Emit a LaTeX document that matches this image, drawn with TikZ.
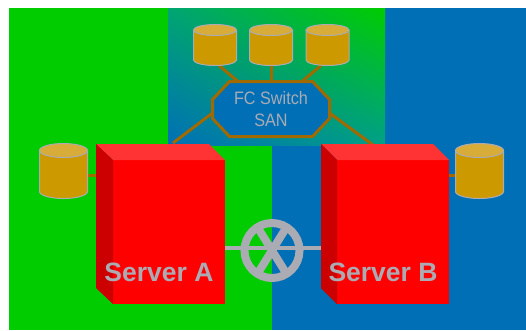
\documentclass[tikz,border=0pt]{standalone}
\usepackage{fontspec}
\setmainfont{Liberation Sans}
\newfontfamily\narrowfont[FakeStretch=0.9]{Liberation Sans}
\usetikzlibrary{calc,backgrounds,positioning,shadings}

\definecolor{sitegreen}{HTML}{00CC00}
\definecolor{siteblue}{HTML}{006FB6}
\definecolor{linkbrown}{HTML}{A06A00}
\definecolor{labelgray}{HTML}{ABABB3}
\definecolor{diskbody}{HTML}{CC9900}
\definecolor{disktop}{HTML}{D8AC38}
\definecolor{mixupper}{HTML}{00A573}
\definecolor{mixlower}{HTML}{00A087}

\tikzset{
  diskedge/.style={draw=labelgray,line width=1pt},
  link/.style={linkbrown,line width=3pt},
  wire/.style={labelgray,line width=4pt},
  spoke/.style={labelgray,line width=8pt},
  srvfront/.style={fill=red,minimum width=112pt,minimum height=144pt,inner sep=0pt,outer sep=0pt},
  srvlabel/.style={labelgray,font=\fontsize{26.5}{27}\selectfont\bfseries,inner sep=0pt}
}

\begin{document}
\begin{tikzpicture}[x=1pt,y=-1pt]
  \useasboundingbox (0,0) rectangle (526,330);

  \begin{scope}[on background layer]
    \fill[sitegreen] (9,8) rectangle (272,330);
    \fill[siteblue] (272,145) rectangle (526,330);
    \fill[siteblue] (385,8) rectangle (526,145);
    \shade[lower left=siteblue,upper right=sitegreen,upper left=mixupper,lower right=mixlower] (168,8) rectangle (385,145);
  \end{scope}

  % servers
  \foreach \srv/\x/\dx/\txt in {srva/169/17/A,srvb/393/16/B} {
    \node[srvfront] (\srv) at (\x,232) {};
    \fill[red!80!white] (\srv.north west) -- ++(-\dx,-16) -- ($(\srv.north east)+(-16,-16)$) -- (\srv.north east) -- cycle;
    \fill[red!80!black] (\srv.north west) -- ++(-\dx,-16) -- ++(0,144) -- (\srv.south west) -- cycle;
    \node[srvlabel] (lbl\srv) at (\x-10,272) {Server \txt};
  }

  % disks
  \foreach \dsk/\x/\y/\dw/\dh/\ry in {dska/215/45/43/41/5.5,dskb/271/45/43/41/5.5,dskc/327.5/45/43/41/5.5,
      dskl/63.5/171/48/55/7,dskr/479.5/171/48/55/7} {
    \node[minimum width=\dw pt,minimum height=\dh pt,inner sep=0pt,outer sep=0pt] (\dsk) at (\x,\y) {};
    \draw[diskedge,fill=diskbody] ([yshift=-\ry pt]\dsk.north west) -- ([yshift=\ry pt]\dsk.south west)
      arc[start angle=180,end angle=360,x radius=\dw/2 pt,y radius=\ry pt]
      -- ([yshift=-\ry pt]\dsk.north east);
    \draw[diskedge,fill=disktop] ([yshift=-\ry pt]\dsk.north) ellipse[x radius=\dw/2 pt,y radius=\ry pt];
  }

  \node[minimum width=117pt,minimum height=55pt,inner sep=0pt,outer sep=0pt,align=center,text=labelgray,
    font=\narrowfont\fontsize{18}{22}\selectfont] (san) at (271,109) {FC Switch\\SAN};

  % router
  \node[circle,draw=labelgray,line width=8pt,minimum size=55pt,inner sep=0pt,outer sep=0pt] (rtr) at (272,250.5) {};
  \draw[spoke] (rtr.58) -- (rtr.238);
  \draw[spoke] (rtr.122) -- (rtr.302);

  \begin{scope}[on background layer]
    \draw[link] ([xshift=4pt]dska.south) -- ([xshift=-33pt]san.north);
    \draw[link] (dskb.south) -- (san.north);
    \draw[link] ([xshift=-6.5pt]dskc.south) -- ([xshift=31pt]san.north);
    \draw[link] ([yshift=-4pt]san.west) -- (173,143);
    \draw[link] ([yshift=-4pt]san.east) -- (373,145);
    \draw[link] ([yshift=-4pt]dskl.center) -- ([yshift=-4pt]dskl.center -| srva.center);
    \draw[link] ([yshift=-4pt]dskr.center) -- ([yshift=-4pt]dskr.center -| srvb.center);
    \draw[wire] ([yshift=-16pt]srva.east) -- ([yshift=-16pt]srvb.west);
    \draw[link,fill=siteblue] ($(san.north west)+(17,0)$) -- ($(san.north east)+(-17,0)$)
      -- ($(san.north east)+(0,18)$) -- ($(san.south east)+(0,-18)$)
      -- ($(san.south east)+(-17,0)$) -- ($(san.south west)+(17,0)$)
      -- ($(san.south west)+(0,-18)$) -- ($(san.north west)+(0,18)$) -- cycle;
  \end{scope}
\end{tikzpicture}
\end{document}
